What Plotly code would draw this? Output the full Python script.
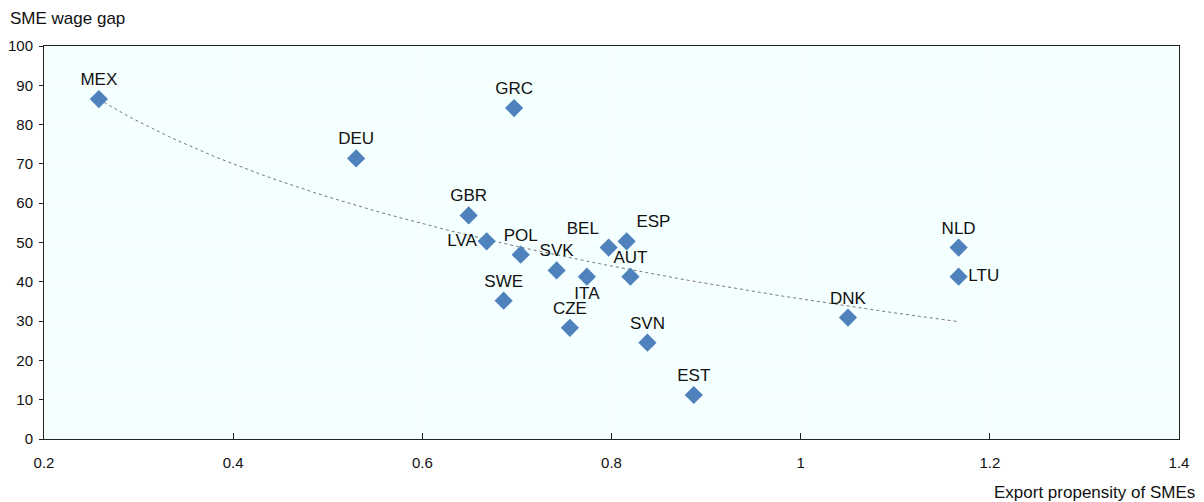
import numpy as np
import plotly.graph_objects as go

countries = ["MEX", "DEU", "GRC", "GBR", "LVA", "POL", "SVK", "SWE", "CZE", "ITA",
             "BEL", "ESP", "AUT", "SVN", "EST", "DNK", "NLD", "LTU"]
export_propensity = [0.258, 0.530, 0.697, 0.649, 0.668, 0.704, 0.742, 0.686, 0.756, 0.774,
                     0.797, 0.816, 0.820, 0.838, 0.887, 1.050, 1.167, 1.167]
wage_gap = [86.5, 71.4, 84.2, 56.9, 50.3, 46.9, 42.9, 35.2, 28.3, 41.3,
            48.7, 50.3, 41.3, 24.5, 11.2, 30.9, 48.7, 41.3]
label_pos = ["top center", "top center", "top center", "top center", "middle left", "top center",
             "top center", "top center", "top center", "bottom center", "top left", "top right",
             "top center", "top center", "top center", "top center", "top center", "middle right"]

x = np.array(export_propensity)
y = np.array(wage_gap)
b, a = np.polyfit(np.log(x), y, 1)
xs = np.linspace(x.min(), x.max(), 100)
ys = a + b * np.log(xs)

font = "Liberation Sans, Arial, sans-serif"
fig = go.Figure()
fig.add_trace(go.Scatter(x=xs, y=ys, mode="lines",
                         line=dict(color="#777777", width=1, dash="dot"),
                         hoverinfo="skip", showlegend=False))
fig.add_trace(go.Scatter(x=export_propensity, y=wage_gap, mode="markers+text",
                         text=countries, textposition=label_pos,
                         textfont=dict(family=font, size=17, color="#111111"),
                         marker=dict(symbol="diamond", size=14, color="#4F81BD",
                                     line=dict(width=0)),
                         showlegend=False))

fig.update_layout(
    width=1196, height=494,
    margin=dict(l=36, r=25, t=38, b=63, autoexpand=False),
    paper_bgcolor="white", plot_bgcolor="#F4FFFF",
    font=dict(family=font, size=15, color="#111111"),
    xaxis=dict(range=[0.2, 1.4], dtick=0.2, tick0=0.2, showgrid=True, gridcolor="white",
               gridwidth=1, zeroline=False, showline=True, linecolor="#222222", linewidth=1,
               mirror=True, ticks="inside", ticklen=6, tickcolor="#222222", automargin=False,
               ticklabelstandoff=10,
               tickfont=dict(family=font, size=15), tickformat="~g"),
    yaxis=dict(range=[0, 100], dtick=10, showgrid=True, gridcolor="white", gridwidth=1,
               zeroline=False, showline=True, linecolor="#222222", linewidth=1, mirror=True,
               ticks="outside", ticklen=4, tickcolor="#222222", automargin=False,
               ticklabelstandoff=3,
               tickfont=dict(family=font, size=15)),
    annotations=[
        dict(text="SME wage gap", xref="paper", yref="paper", x=-0.0317, y=1.071,
             xanchor="left", yanchor="middle", showarrow=False,
             font=dict(family=font, size=17)),
        dict(text="Export propensity of SMEs", xref="paper", yref="paper", x=1.0159, y=-0.135,
             xanchor="right", yanchor="middle", showarrow=False,
             font=dict(family=font, size=17)),
    ],
)
fig.write_html("out.html")
